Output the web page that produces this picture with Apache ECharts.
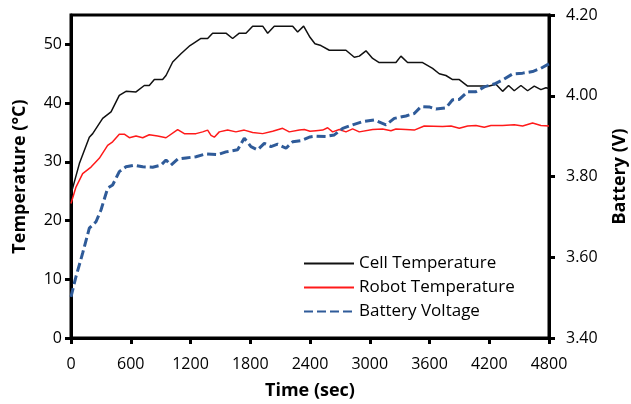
<!DOCTYPE html>
<html>
<head>
<meta charset="utf-8">
<script src="https://cdn.jsdelivr.net/npm/echarts@6/dist/echarts.min.js"></script>
<style>
  html, body { margin: 0; padding: 0; background: #fff; }
  #chart { width: 631px; height: 404px; }
</style>
</head>
<body>
<div id="chart"></div>
<script>
// 时间轴刻度 (sec)
const timeTicks = [0, 600, 1200, 1800, 2400, 3000, 3600, 4200, 4800];
const tempTicks = [0, 10, 20, 30, 40, 50];
const voltTicks = [3.4, 3.6, 3.8, 4.0, 4.2];

// Cell Temperature
const cellTime = [0, 84, 184, 218, 318, 402, 485, 552, 653, 736, 786, 837, 920, 954, 1021, 1104, 1195, 1222, 1305, 1372, 1422, 1556, 1623, 1690, 1757, 1824, 1925, 1975, 2041, 2226, 2276, 2336, 2400, 2450, 2510, 2594, 2761, 2845, 2895, 2962, 3029, 3095, 3263, 3313, 3380, 3531, 3631, 3698, 3765, 3832, 3899, 3983, 4200, 4267, 4334, 4394, 4451, 4518, 4585, 4652, 4719, 4769, 4800];
const cellTemp = [24.5, 29.7, 34.2, 34.8, 37.4, 38.5, 41.3, 42.0, 41.9, 43.0, 43.0, 44.0, 44.0, 44.7, 47.0, 48.4, 49.8, 50.1, 51.0, 51.0, 51.9, 51.9, 51.0, 51.9, 51.9, 53.1, 53.1, 51.9, 53.1, 53.1, 52.1, 53.1, 51.2, 50.1, 49.8, 49.0, 49.0, 47.8, 48.0, 48.9, 47.6, 46.9, 46.9, 48.0, 46.9, 46.9, 45.9, 45.0, 44.7, 44.0, 44.0, 42.9, 42.9, 43.2, 42.0, 43.0, 42.1, 43.0, 42.1, 42.9, 42.3, 42.6, 42.5];

// Robot Temperature
const robotTime = [0, 50, 117, 201, 284, 368, 418, 485, 535, 586, 653, 720, 786, 870, 954, 1071, 1138, 1255, 1322, 1372, 1406, 1439, 1489, 1573, 1656, 1740, 1824, 1925, 2025, 2125, 2192, 2293, 2343, 2400, 2460, 2527, 2577, 2627, 2694, 2761, 2828, 2895, 3029, 3129, 3213, 3263, 3363, 3447, 3547, 3732, 3816, 3899, 3983, 4066, 4150, 4217, 4334, 4451, 4535, 4635, 4719, 4800];
const robotTemp = [22.9, 25.7, 28.0, 29.1, 30.6, 32.8, 33.4, 34.7, 34.7, 34.1, 34.4, 34.1, 34.6, 34.4, 34.1, 35.5, 34.8, 34.8, 35.1, 35.4, 34.5, 34.2, 35.1, 35.4, 35.1, 35.4, 35.0, 34.8, 35.2, 35.7, 35.1, 35.4, 35.5, 35.2, 35.3, 35.4, 35.8, 35.1, 35.5, 35.1, 35.6, 35.1, 35.5, 35.6, 35.3, 35.6, 35.5, 35.4, 36.1, 36.0, 36.1, 35.7, 36.1, 36.2, 35.9, 36.2, 36.2, 36.3, 36.1, 36.6, 36.2, 36.1];

// Battery Voltage
const voltTime = [0, 50, 117, 184, 251, 301, 368, 418, 485, 552, 636, 720, 820, 903, 954, 1004, 1071, 1155, 1255, 1355, 1473, 1556, 1673, 1740, 1807, 1874, 1941, 2008, 2075, 2159, 2226, 2309, 2400, 2460, 2560, 2644, 2728, 2828, 2928, 3045, 3163, 3246, 3363, 3447, 3514, 3604, 3665, 3765, 3832, 3899, 3983, 4066, 4150, 4250, 4334, 4434, 4535, 4635, 4719, 4800];
const voltValue = [3.502, 3.552, 3.610, 3.672, 3.688, 3.717, 3.771, 3.779, 3.812, 3.824, 3.828, 3.824, 3.823, 3.828, 3.841, 3.828, 3.843, 3.846, 3.849, 3.856, 3.854, 3.861, 3.866, 3.895, 3.874, 3.866, 3.882, 3.874, 3.880, 3.870, 3.886, 3.889, 3.898, 3.900, 3.899, 3.903, 3.919, 3.928, 3.936, 3.940, 3.928, 3.944, 3.950, 3.956, 3.973, 3.972, 3.967, 3.970, 3.990, 3.991, 4.010, 4.010, 4.022, 4.029, 4.039, 4.054, 4.056, 4.060, 4.068, 4.079];

const pairs = (xs, ys) => xs.map((x, i) => [x, ys[i]]);

const font = "'Open Sans', sans-serif";
const axisLine = { lineStyle: { color: "#000", width: 3 } };
const axisTick = { length: 6, lineStyle: { color: "#000", width: 3 } };
const nameStyle = { fontFamily: font, fontSize: 18, fontWeight: "bold", color: "#000" };

const chart = echarts.init(document.getElementById("chart"));
chart.setOption({
  animation: false,
  textStyle: { fontFamily: font },
  grid: {
    left: 71,
    right: 82,
    top: 15,
    bottom: 66,
    outerBoundsMode: "none",
    show: true,
    borderColor: "#000",
    borderWidth: 3,
  },
  legend: {
    orient: "vertical",
    left: 298,
    top: 250,
    itemWidth: 50,
    itemHeight: 14,
    itemGap: 7,
    itemStyle: { opacity: 0 },
    textStyle: { fontFamily: font, fontSize: 17, color: "#000" },
    data: ["Cell Temperature", "Robot Temperature", "Battery Voltage"],
  },
  xAxis: {
    type: "value",
    min: timeTicks[0],
    max: timeTicks[timeTicks.length - 1],
    interval: 600,
    name: "Time (sec)",
    nameLocation: "middle",
    nameGap: 44,
    nameTextStyle: nameStyle,
    axisLine,
    axisTick,
    axisLabel: {
      fontSize: 16,
      color: "#000",
      margin: 18,
      formatter: (v) => String(v),
    },
    splitLine: { show: false },
  },
  yAxis: [
    {
      type: "value",
      position: "left",
      min: 0,
      max: 55,
      interval: 10,
      name: "Temperature (°C)",
      nameLocation: "middle",
      nameGap: 42,
      nameTextStyle: nameStyle,
      axisLine,
      axisTick: { ...axisTick, customValues: tempTicks },
      axisLabel: { customValues: tempTicks, fontSize: 16, color: "#000", margin: 9 },
      splitLine: { show: false },
    },
    {
      type: "value",
      position: "right",
      min: voltTicks[0],
      max: voltTicks[voltTicks.length - 1],
      interval: 0.2,
      name: "Battery (V)",
      nameLocation: "middle",
      nameGap: 62,
      nameTextStyle: nameStyle,
      axisLine,
      axisTick,
      axisLabel: {
        fontSize: 16,
        color: "#000",
        margin: 17,
        formatter: (v) => v.toFixed(2),
      },
      splitLine: { show: false },
    },
  ],
  series: [
    {
      name: "Cell Temperature",
      type: "line",
      yAxisIndex: 0,
      symbol: "none",
      data: pairs(cellTime, cellTemp),
      lineStyle: { color: "#111", width: 1.5 },
      itemStyle: { color: "#111" },
    },
    {
      name: "Robot Temperature",
      type: "line",
      yAxisIndex: 0,
      symbol: "none",
      data: pairs(robotTime, robotTemp),
      lineStyle: { color: "#ff1a1a", width: 1.5 },
      itemStyle: { color: "#ff1a1a" },
    },
    {
      name: "Battery Voltage",
      type: "line",
      yAxisIndex: 1,
      symbol: "none",
      data: pairs(voltTime, voltValue),
      lineStyle: { color: "#2f5b99", width: 3, type: [9, 4] },
      itemStyle: { color: "#2f5b99" },
    },
  ],
});
</script>
</body>
</html>
